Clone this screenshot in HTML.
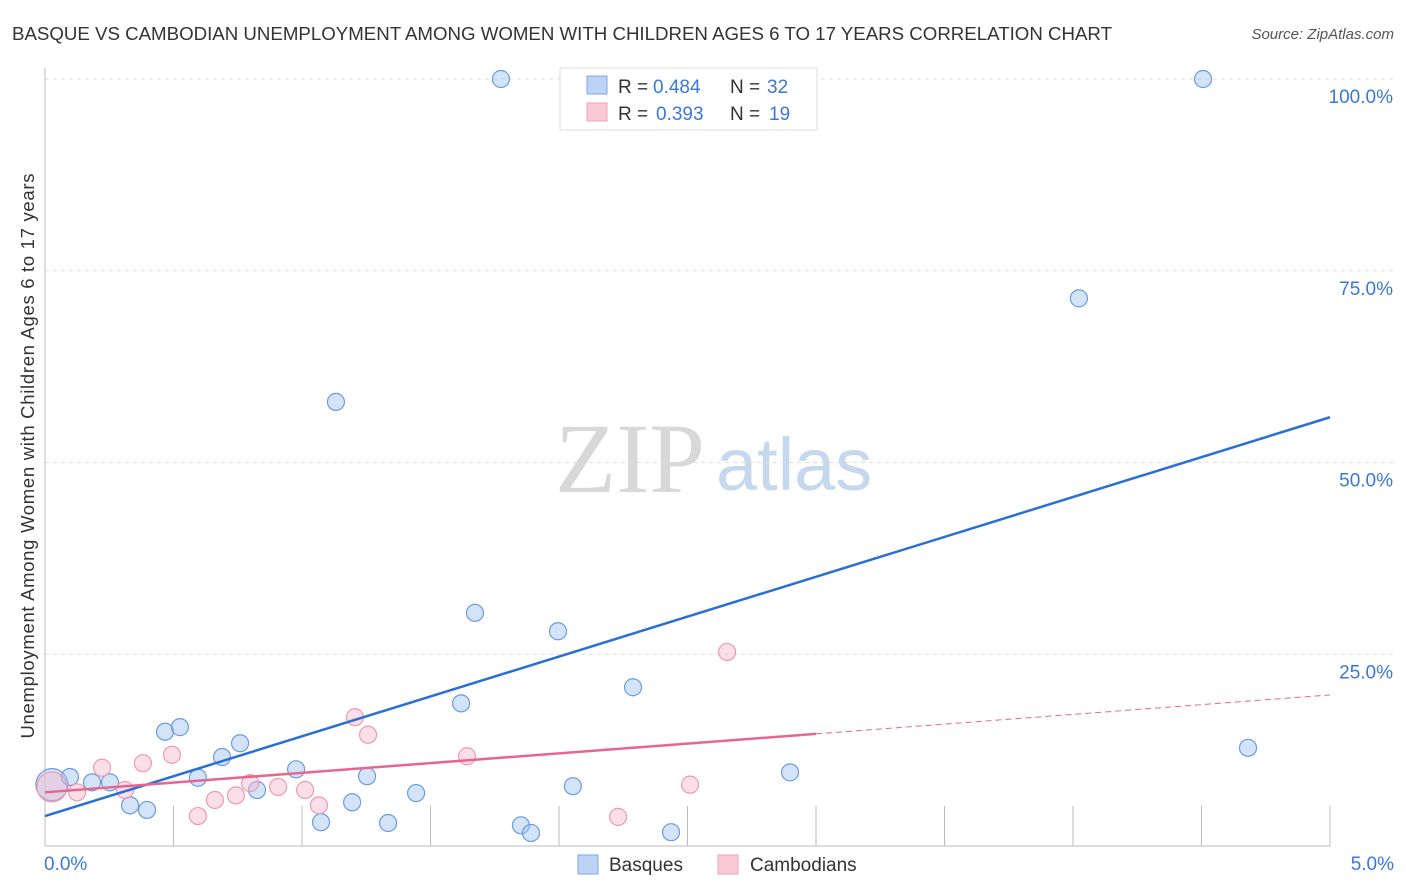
<!DOCTYPE html>
<html><head><meta charset="utf-8"><style>
body{margin:0;background:#fff;font-family:"Liberation Sans",sans-serif}
svg{display:block}
</style></head><body>
<svg id="chart" width="1406" height="892">
<text x="12" y="40" font-size="18.7" fill="#333" textLength="1100">BASQUE VS CAMBODIAN UNEMPLOYMENT AMONG WOMEN WITH CHILDREN AGES 6 TO 17 YEARS CORRELATION CHART</text>
<text x="1394" y="39" font-size="15" fill="#555" font-style="italic" text-anchor="end">Source: ZipAtlas.com</text>
<text x="555" y="492" font-size="100" font-family="Liberation Serif,serif" fill="#d8d8d8">ZIP</text>
<text x="716" y="490" font-size="74" fill="#c6d8ee">atlas</text>
<text transform="translate(34,456) rotate(-90)" font-size="18.5" fill="#333" text-anchor="middle" textLength="565">Unemployment Among Women with Children Ages 6 to 17 years</text>
<g id="grid"></g><g id="marks"></g>
<g>
<rect x="560" y="68" width="257" height="62" fill="#fff" stroke="#ddd"/>
<rect x="587" y="76" width="20" height="18" fill="#bcd3f5" stroke="#7ea7e6"/>
<rect x="587" y="103" width="20" height="18" fill="#f9c9d7" stroke="#eda1b8"/>
<text x="618" y="93" font-size="19" fill="#333">R =</text>
<text x="653" y="93" font-size="19" fill="#3a78d8">0.484</text>
<text x="730" y="93" font-size="19" fill="#333">N =</text>
<text x="767" y="93" font-size="19" fill="#3a78d8">32</text>
<text x="618" y="120" font-size="19" fill="#333">R =</text>
<text x="656" y="120" font-size="19" fill="#3a78d8">0.393</text>
<text x="730" y="120" font-size="19" fill="#333">N =</text>
<text x="769" y="120" font-size="19" fill="#3a78d8">19</text>
</g>
<g>
<rect x="578" y="855" width="20" height="19" fill="#bcd3f5" stroke="#7ea7e6"/>
<text x="609" y="871" font-size="19" fill="#333">Basques</text>
<rect x="718" y="855" width="20" height="19" fill="#f9c9d7" stroke="#eda1b8"/>
<text x="750" y="871" font-size="19" fill="#333">Cambodians</text>
</g>
<text x="44" y="870" font-size="19" fill="#3a78d8">0.0%</text>
<text x="1394" y="870" font-size="19" fill="#3a78d8" text-anchor="end">5.0%</text>
</svg>
<script>
const yTicks=[25,50,75,100];
const yTickLabels=["25.0%","50.0%","75.0%","100.0%"];
const xTicks=[0.5,1,1.5,2,2.5,3,3.5,4,4.5,5];
const basqueX=[0.027,0.097,0.183,0.253,0.331,0.397,0.467,0.525,0.595,0.689,0.759,0.825,0.977,1.074,1.132,1.195,1.253,1.335,1.444,1.619,1.673,1.774,1.852,1.891,1.996,2.054,2.288,2.436,2.899,4.023,4.506,4.681];
const basqueY=[8.0,9.0,8.3,8.3,5.3,4.7,14.9,15.5,8.9,11.6,13.4,7.3,10.0,3.1,57.9,5.7,9.1,3.0,6.9,18.6,30.4,100,2.7,1.7,28.0,7.8,20.7,1.8,9.6,71.4,100,12.8];
const cambX=[0.027,0.125,0.222,0.311,0.381,0.494,0.595,0.661,0.743,0.798,0.907,1.012,1.066,1.206,1.257,1.642,2.23,2.51,2.654];
const cambY=[7.7,7.0,10.2,7.3,10.8,11.9,3.9,6.0,6.6,8.2,7.7,7.3,5.3,16.8,14.5,11.7,3.8,8.0,25.3];
const basqueTrend=[3.9,55.9];
const cambTrend=[7.0,19.7];
const cambSolidEnd=3.0;
const NS="http://www.w3.org/2000/svg";
const sx=v=>45+v*257, sy=v=>846-v*7.67;
function mk(tag,attrs,parent){const e=document.createElementNS(NS,tag);for(const k in attrs)e.setAttribute(k,attrs[k]);parent.appendChild(e);return e;}
const grid=document.getElementById('grid'), marks=document.getElementById('marks');
yTicks.forEach((t,i)=>{
 const l=mk('line',{x1:45,x2:1394,y1:sy(t),y2:sy(t),stroke:'#ddd','stroke-dasharray':'4,4'},grid);
 
 
 const tx=mk('text',{x:1393,y:sy(t)+24,'font-size':19,fill:'#3a78d8','text-anchor':'end'},grid);
 tx.textContent=yTickLabels[i];
 
 
});
const ax=mk('line',{x1:45,x2:45,y1:68,y2:846,stroke:'#bbb'},grid);


const bx=mk('line',{x1:45,x2:1330,y1:846,y2:846,stroke:'#bbb'},grid);


xTicks.forEach(t=>{
 const l=mk('line',{x1:sx(t),x2:sx(t),y1:806,y2:846,stroke:'#bbb'},grid);
 
 
});
function dot(x,y,r,fill,stroke,name){
 const c=mk('circle',{cx:sx(x),cy:sy(y),r:r,fill:fill,stroke:stroke,'stroke-width':1.2},marks);
 
 
}
basqueX.forEach((x,i)=>dot(x,basqueY[i],i==0?16:8.5,'rgba(160,195,240,0.45)','#6a9be0','basque-point'));
cambX.forEach((x,i)=>dot(x,cambY[i],i==0?15:8.5,'rgba(247,185,205,0.45)','#ec9ab3','cambodian-point'));
const bl=mk('line',{x1:sx(0),y1:sy(basqueTrend[0]),x2:sx(5),y2:sy(basqueTrend[1]),stroke:'#2a6fd6','stroke-width':2.5},marks);


const cm=cambTrend[0]+(cambTrend[1]-cambTrend[0])*cambSolidEnd/5;
const cl=mk('line',{x1:sx(0),y1:sy(cambTrend[0]),x2:sx(cambSolidEnd),y2:sy(cm),stroke:'#e66690','stroke-width':2.5},marks);


const cd=mk('line',{x1:sx(cambSolidEnd),y1:sy(cm),x2:sx(5),y2:sy(cambTrend[1]),stroke:'#e66690','stroke-width':1,'stroke-dasharray':'6,4'},marks);


</script>
</body></html>
